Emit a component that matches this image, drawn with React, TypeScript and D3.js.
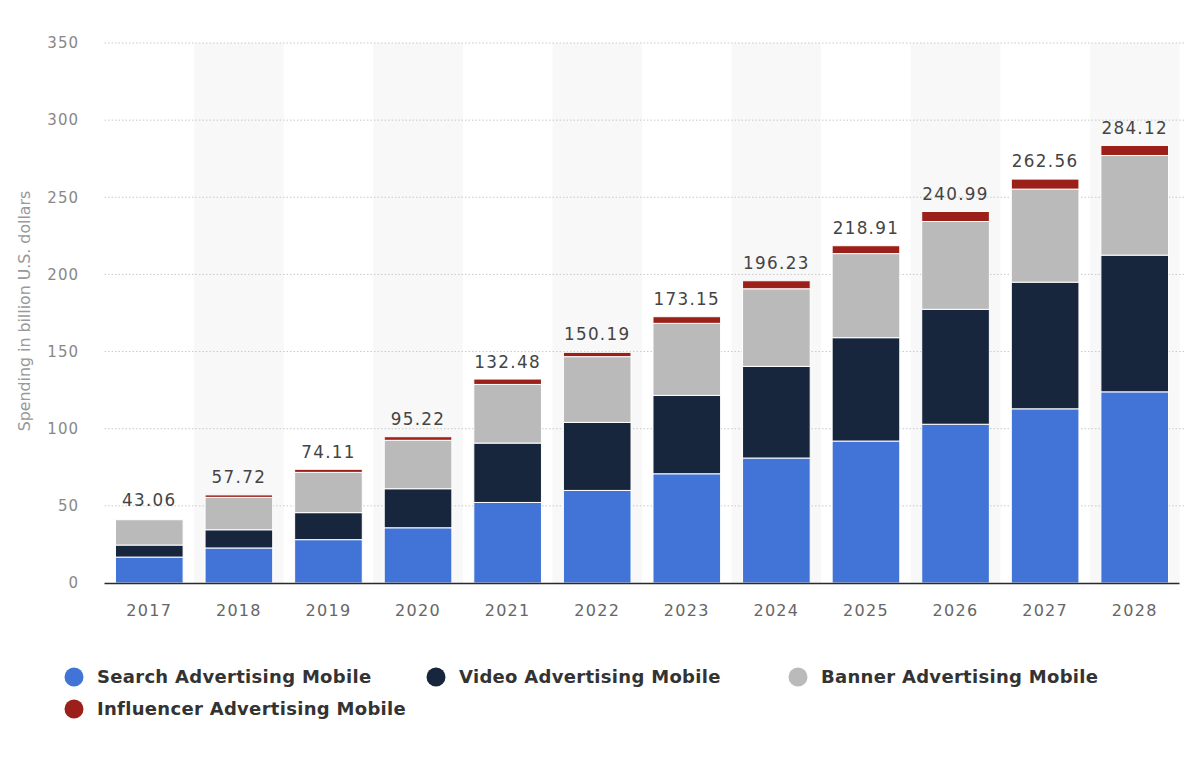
import React from "react";
import * as d3 from "d3";

const years = ["2017", "2018", "2019", "2020", "2021", "2022", "2023", "2024", "2025", "2026", "2027", "2028"];
const search = [16.8, 22.7, 28.1, 35.8, 52.2, 60.0, 70.8, 81.0, 92.0, 102.9, 112.9, 123.9];
const video = [7.8, 11.8, 17.5, 25.3, 38.5, 44.1, 50.8, 59.4, 67.0, 74.5, 82.1, 88.6];
const banner = [16.4, 21.0, 26.1, 31.4, 38.0, 42.6, 46.7, 50.3, 54.5, 56.9, 60.3, 64.6];
const influencer = [0, 1.6, 2.0, 2.3, 3.5, 2.8, 4.3, 5.2, 5.1, 6.5, 6.5, 6.5];
const totals = [43.06, 57.72, 74.11, 95.22, 132.48, 150.19, 173.15, 196.23, 218.91, 240.99, 262.56, 284.12];
const yTicks = [0, 50, 100, 150, 200, 250, 300, 350];

const seriesNames = ["Search Advertising Mobile", "Video Advertising Mobile", "Banner Advertising Mobile", "Influencer Advertising Mobile"];
const seriesColors = ["#4174d6", "#17263c", "#bababa", "#9b2019"];
const seriesKeys = ["search", "video", "banner", "influencer"];

const W = 1200;
const H = 761;
const left = 104.5;
const right = 1179.5;
const top = 43;
const bottom = 583;

export default function App() {
  const rows = years.map((y, i) => ({
    year: y,
    search: search[i],
    video: video[i],
    banner: banner[i],
    influencer: influencer[i],
  }));
  const stack = d3.stack<any>().keys(seriesKeys)(rows);
  const x = d3.scaleBand().domain(years).range([left, right]).paddingInner(0.245).paddingOuter(0.1225);
  const xBand = d3.scaleBand().domain(years).range([left, right]).padding(0);
  const y = d3.scaleLinear().domain([0, 350]).range([bottom, top]);
  const font = "'DejaVu Sans', 'Open Sans', sans-serif";

  const legendPos = [
    { x: 74, y: 677 },
    { x: 436, y: 677 },
    { x: 798, y: 677 },
    { x: 74, y: 709 },
  ];

  return (
    <svg width={W} height={H} style={{ position: "absolute", left: 0, top: 0, background: "#fff" }} fontFamily={font}>
      {/* alternating bands */}
      {years.map((yr, i) =>
        i % 2 === 1 ? (
          <rect key={"band" + yr} x={xBand(yr)} y={y(350)} width={xBand.bandwidth()} height={bottom - y(350)} fill="#f8f8f8" />
        ) : null
      )}
      {/* grid */}
      {yTicks.filter((t) => t > 0).map((t) => (
        <line key={"g" + t} x1={left} x2={1184} y1={y(t)} y2={y(t)} stroke="#c8c8c8" strokeWidth={1} strokeDasharray="1.5,2" />
      ))}
      {/* y tick labels */}
      {yTicks.map((t) => (
        <text key={"yt" + t} x={79} y={y(t)} dy="0.35em" textAnchor="end" fontSize={15} fill="#888" letterSpacing={1}>
          {t}
        </text>
      ))}
      {/* y axis title */}
      <text transform={`translate(30,${311}) rotate(-90)`} textAnchor="middle" fontSize={15.8} fill="#999">
        Spending in billion U.S. dollars
      </text>
      {/* bars */}
      {stack.map((s, si) =>
        s.map((d: any, i: number) => {
          const h = y(d[0]) - y(d[1]);
          if (h <= 0) return null;
          return (
            <rect
              key={seriesKeys[si] + i}
              x={x(years[i])}
              y={y(d[1])}
              width={x.bandwidth()}
              height={h}
              fill={seriesColors[si]}
              stroke="#fff"
              strokeWidth={1}
            />
          );
        })
      )}
      {/* axis line */}
      <line x1={left} x2={right} y1={bottom + 0.5} y2={bottom + 0.5} stroke="#2a2a2a" strokeWidth={1.5} />
      {/* x labels */}
      {years.map((yr) => (
        <text key={"xl" + yr} x={(x(yr) as number) + x.bandwidth() / 2} y={616} textAnchor="middle" fontSize={16} fill="#666" letterSpacing={1.3}>
          {yr}
        </text>
      ))}
      {/* totals */}
      {years.map((yr, i) => (
        <text key={"tl" + yr} x={(x(yr) as number) + x.bandwidth() / 2} y={y(totals[i]) - 11} textAnchor="middle" fontSize={16.8} fill="#444" letterSpacing={1.3}>
          {totals[i].toFixed(2)}
        </text>
      ))}
      {/* legend */}
      {seriesNames.map((n, i) => (
        <g key={"lg" + i}>
          <circle cx={legendPos[i].x} cy={legendPos[i].y} r={9.5} fill={seriesColors[i]} />
          <text x={legendPos[i].x + 23} y={legendPos[i].y} dy="0.36em" fontSize={18} fontWeight="bold" fill="#333" letterSpacing={0.3}>
            {n}
          </text>
        </g>
      ))}
    </svg>
  );
}
